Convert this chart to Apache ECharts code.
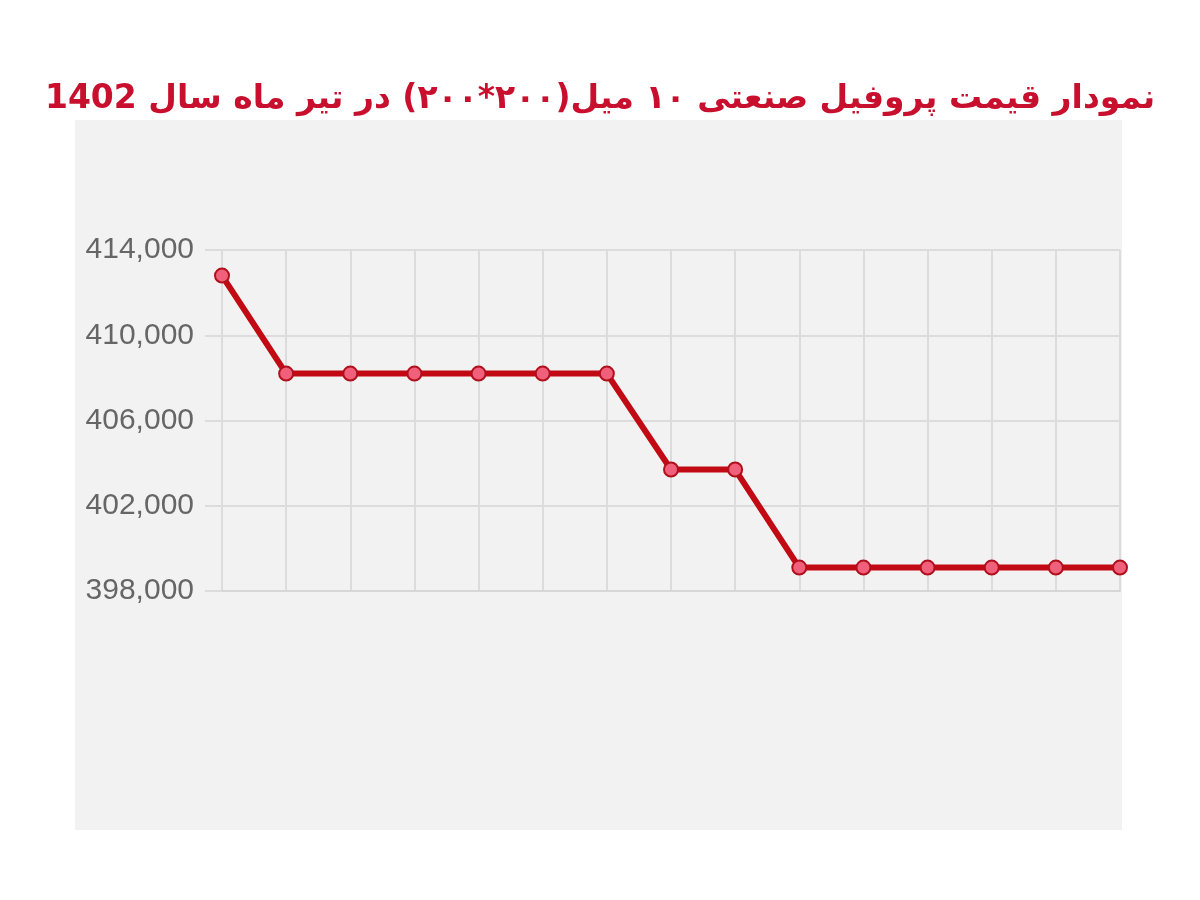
<!DOCTYPE html>
<html>
<head>
<meta charset="utf-8">
<script src="https://cdn.jsdelivr.net/npm/echarts@6/dist/echarts.min.js"></script>
<style>
html,body{margin:0;padding:0;background:#fff;}
#c{width:1200px;height:900px;}
</style>
</head>
<body>
<div id="c" dir="rtl"></div>
<script>
const titleText = 'نمودار قیمت پروفیل صنعتی ۱۰ میل(۲۰۰*۲۰۰) در تیر ماه سال 1402';
const categories = ['1','2','3','4','5','6','7','8','9','10','11','12','13','14','15'];
const prices = [412800, 408200, 408200, 408200, 408200, 408200, 408200, 403700, 403700, 399100, 399100, 399100, 399100, 399100, 399100];
const yMin = 398000, yMax = 414000, yStep = 4000;

const chart = echarts.init(document.getElementById('c'));
chart.setOption({
  animation: false,
  backgroundColor: '#ffffff',
  graphic: [{
    type: 'rect', z: -10, silent: true,
    shape: {x: 75, y: 120, width: 1047, height: 710},
    style: {fill: '#f2f2f2'}
  }],
  title: {
    text: titleText,
    left: 'center', top: 78,
    textStyle: {fontFamily: 'DejaVu Sans', fontWeight: 'bold', fontSize: 33, color: '#c8102e'}
  },
  grid: {left: 222, right: 80, top: 250, bottom: 309},
  xAxis: {
    type: 'category', data: categories, boundaryGap: false,
    axisLabel: {show: false},
    axisTick: {show: false},
    axisLine: {show: true, lineStyle: {color: '#d6d6d6', width: 2}},
    splitLine: {show: true, lineStyle: {color: '#dcdcdc', width: 2}}
  },
  yAxis: {
    type: 'value', min: yMin, max: yMax, interval: yStep,
    axisLine: {show: false},
    axisTick: {show: true, length: 17, lineStyle: {color: '#dcdcdc', width: 2}},
    axisLabel: {
      color: '#666', fontSize: 30, fontFamily: 'Liberation Sans', margin: 28,
      formatter: v => v.toLocaleString('en-US')
    },
    splitLine: {show: true, lineStyle: {color: '#dcdcdc', width: 2}}
  },
  series: [{
    type: 'line', data: prices,
    lineStyle: {color: '#c20a14', width: 6},
    symbol: 'circle', symbolSize: 14,
    itemStyle: {color: '#f0607a', borderColor: '#b0101c', borderWidth: 2}
  }]
});
</script>
</body>
</html>
